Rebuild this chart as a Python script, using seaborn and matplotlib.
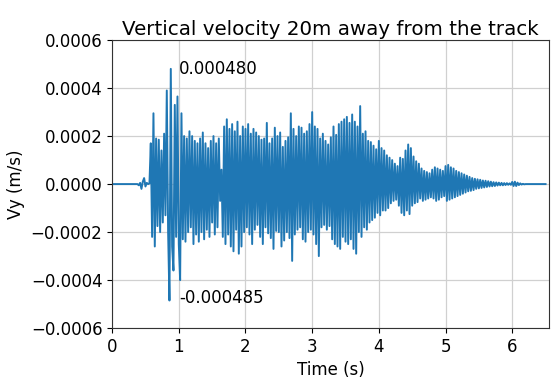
import numpy as np
import pandas as pd
import matplotlib
matplotlib.use("Agg")
import matplotlib.pyplot as plt
import seaborn as sns

# Sampling interval of the recorded signal (s)
dt = 0.02

# Vertical velocity samples in micrometres per second (1e-6 m/s)
quiet_start = [0] * 19  # t = 0.00 .. 0.36
precursor = [0, -5, 5, -20, 10, 25, -10, 5, 0, 3]  # t = 0.38 .. 0.56
arrival = [
    170,
    -220, 295, -260, 190, -175,
    185, -200, 140, -160, 210,
    -130, 390, -200, -485, 480,
    -260, -360, 330, -220, 365,
    -250, -400, 295, -230, 200,
    -240, 190, -200, 220, -180,
    200, -250, 180, -210, 170,
    -240, 190, -200, 215, -230,
    170, -190, 150, -220, 180,
    -160, 200, -210, 170, -180,
]
passage = [
    190, -70, 60, -220, 240,
    -250, 270, -210, 230, -260,
    250, -280, 220, -190, 260,
    -290, 200, -260, 240, -200,
    230, -180, 250, -210, 210,
    -250, 230, -190, 215, -170,
    200, -220, 185, -250, 190,
    -180, 255, -205, 170, -225,
    190, -270, 235, -195, 200,
    -200, 215, -260, 155, -235,
    180, -200, 195, -225, 295,
    -320, 230, -210, 200, -190,
    240, -180, 235, -230, 210,
    -240, 220, -200, 250, -190,
    300, -210, 240, -250, 230,
    -300, 190, -180, 210, -170,
    180, -190, 165, -175, 195,
    -230, 240, -250, 205, -260,
    250, -270, 260, -220, 270,
    -240, 280, -250, 255, -230,
    290, -270, 260, -290, 240,
    -200, 325, -220, 210, -180,
    220, -190, 180, -160, 175,
]
decay = [
    -150, 160, -140, 145, -120,
    180, -130, 150, -110, 140,
    -110, 120, -100, 110, -80,
    100, -70, 85, -65, 75,
    -90, 110, -120, 105, -130,
    140, -110, 165, -125, 150,
    -90, 115, -80, 95, -75,
    85, -60, 65, -70, 55,
    -65, 50, -60, 45, -55,
    60, -60, 70, -70, 65,
    -65, 60, -55, 55, -50,
    75, -70, 80, -65, 70,
    -60, 65, -55, 55, -50,
    50, -45, 45, -40, 40,
    -35, 35, -30, 30, -28,
    25, -25, 22, -20, 20,
    -18, 18, -16, 15, -14,
    14, -12, 12, -10, 10,
    -9, 8, -8, 7, -6,
    6, -5, 5, -5, 4,
    -4, 4, -3, 3, -3,
    9, -8, 10, -8, 6,
    -4, 3, -2, 1, -1,
]
t_end = 6.5

vy_um = quiet_start + precursor + arrival + passage + decay
n_total = int(round(t_end / dt)) + 1
vy_um = vy_um + [0] * (n_total - len(vy_um))  # signal has died out

vy = np.array(vy_um, dtype=float) * 1e-6
time = np.arange(len(vy)) * dt
df = pd.DataFrame({"Time (s)": time, "Vy (m/s)": vy})

fig = plt.figure(figsize=(5.55, 3.78), dpi=100)
ax = fig.add_axes([0.202, 0.132, 0.787, 0.762])

sns.lineplot(data=df, x="Time (s)", y="Vy (m/s)", ax=ax,
             color="#1f77b4", linewidth=1.4)

ax.set_xlim(0, 6.55)
ax.set_ylim(-0.0006, 0.0006)
ax.set_xticks(np.arange(0, 7, 1))
ax.set_yticks(np.arange(-0.0006, 0.00061, 0.0002))
ax.grid(True, color="#d0d0d0", linewidth=0.9)
ax.tick_params(labelsize=12)
for side in ax.spines.values():
    side.set_color("#333333")
ax.set_xlabel("Time (s)", fontsize=12)
ax.set_ylabel("Vy (m/s)", fontsize=12)
ax.set_title("Vertical velocity 20m away from the track", fontsize=14.3, pad=4)

# Label the extreme values
i_max = int(np.argmax(vy))
i_min = int(np.argmin(vy))
ax.text(time[i_max] + 0.12, vy[i_max], f"{vy[i_max]:.6f}",
        fontsize=12, va="center", ha="left")
ax.text(time[i_min] + 0.15, vy[i_min] + 0.00001, f"{vy[i_min]:.6f}",
        fontsize=12, va="center", ha="left")

fig.savefig("out.png", dpi=100)
